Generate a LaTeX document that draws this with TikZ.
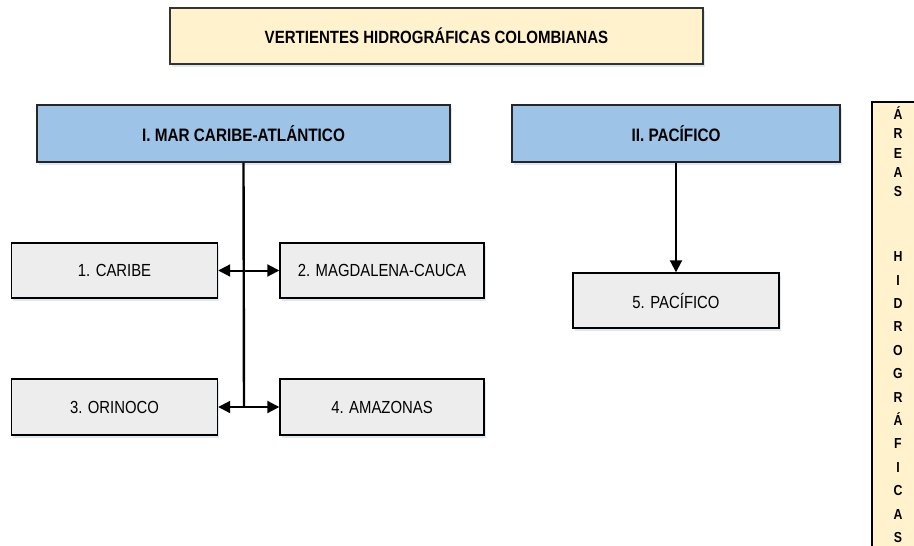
\documentclass[tikz,border=0pt]{standalone}
\usepackage{fontspec}
\setmainfont{Liberation Sans}[FakeStretch=0.85]
\usetikzlibrary{arrows.meta,shadows}
\definecolor{cream}{HTML}{FFF2CC}
\definecolor{blu}{HTML}{9DC3E6}
\definecolor{gry}{HTML}{EDEDED}
\definecolor{shad}{HTML}{C9D9EE}
\begin{document}
\begin{tikzpicture}[x=1pt,y=-1pt,
  shadowed/.style={drop shadow={shadow xshift=1.5pt,shadow yshift=-3pt,fill=shad,opacity=0.6}},
  titlebox/.style={draw=black!80,line width=1.5pt,fill=cream,shadowed,font=\bfseries\fontsize{17.7}{20}\selectfont,inner sep=0pt},
  headbox/.style={draw=black!85,line width=1.5pt,fill=blu,shadowed,font=\bfseries\fontsize{18}{21}\selectfont,inner sep=0pt},
  itembox/.style={draw=black,line width=1.4pt,fill=gry,shadowed,font=\fontsize{17.5}{21}\selectfont,inner sep=0pt},
  conn/.style={line width=2pt},
  arr/.style={conn,-{Triangle[length=12pt,width=12pt]}},
  letters/.style={font=\bfseries\fontsize{14.5}{#1}\selectfont,align=center,inner sep=0pt,anchor=north}
]
\useasboundingbox (0,0) rectangle (914,546);

\node[titlebox,minimum width=533pt,minimum height=56pt] (top) at (436.5,36) {VERTIENTES HIDROGRÁFICAS COLOMBIANAS};

\node[headbox,minimum width=413pt,minimum height=57pt] (atl) at (243.5,133.5) {I. MAR CARIBE-ATLÁNTICO};
\node[headbox,minimum width=328pt,minimum height=57pt] (pac) at (676,133.5) {II. PACÍFICO};

\node[itembox,minimum width=206pt,minimum height=55pt] (c1) at (114.5,270.5) {1. CARIBE};
\node[itembox,minimum width=204pt,minimum height=55pt] (c2) at (382,270.5) {2. MAGDALENA-CAUCA};
\node[itembox,minimum width=206pt,minimum height=56pt] (c3) at (114.5,407) {3. ORINOCO};
\node[itembox,minimum width=204pt,minimum height=56pt] (c4) at (382,407) {4. AMAZONAS};
\node[itembox,minimum width=206pt,minimum height=55pt] (c5) at (676,300.5) {5. PACÍFICO};

\coordinate (j1) at (244,270.5);
\coordinate (j2) at (244,407);
\draw[line width=2.4pt] (atl.south) -- (j2);
\draw[arr] (j1) -- (c1.east);
\draw[arr] (j1) -- (c2.west);
\draw[arr] (j2) -- (c3.east);
\draw[arr] (j2) -- (c4.west);
\draw[arr] (pac.south) -- (c5.north);

% side box (cut by the page edge)
\fill[cream] (872,102) rectangle (914,546);
\draw[line width=1.4pt] (872,546) -- (872,102) -- (914,102);
\node[letters=19.3] (areas) at (898,106.5) {Á\\R\\E\\A\\S};
\node[letters=23.4] (hidro) at (898,251.5) {H\\I\\D\\R\\O\\G\\R\\Á\\F\\I\\C\\A\\S};
\end{tikzpicture}
\end{document}
